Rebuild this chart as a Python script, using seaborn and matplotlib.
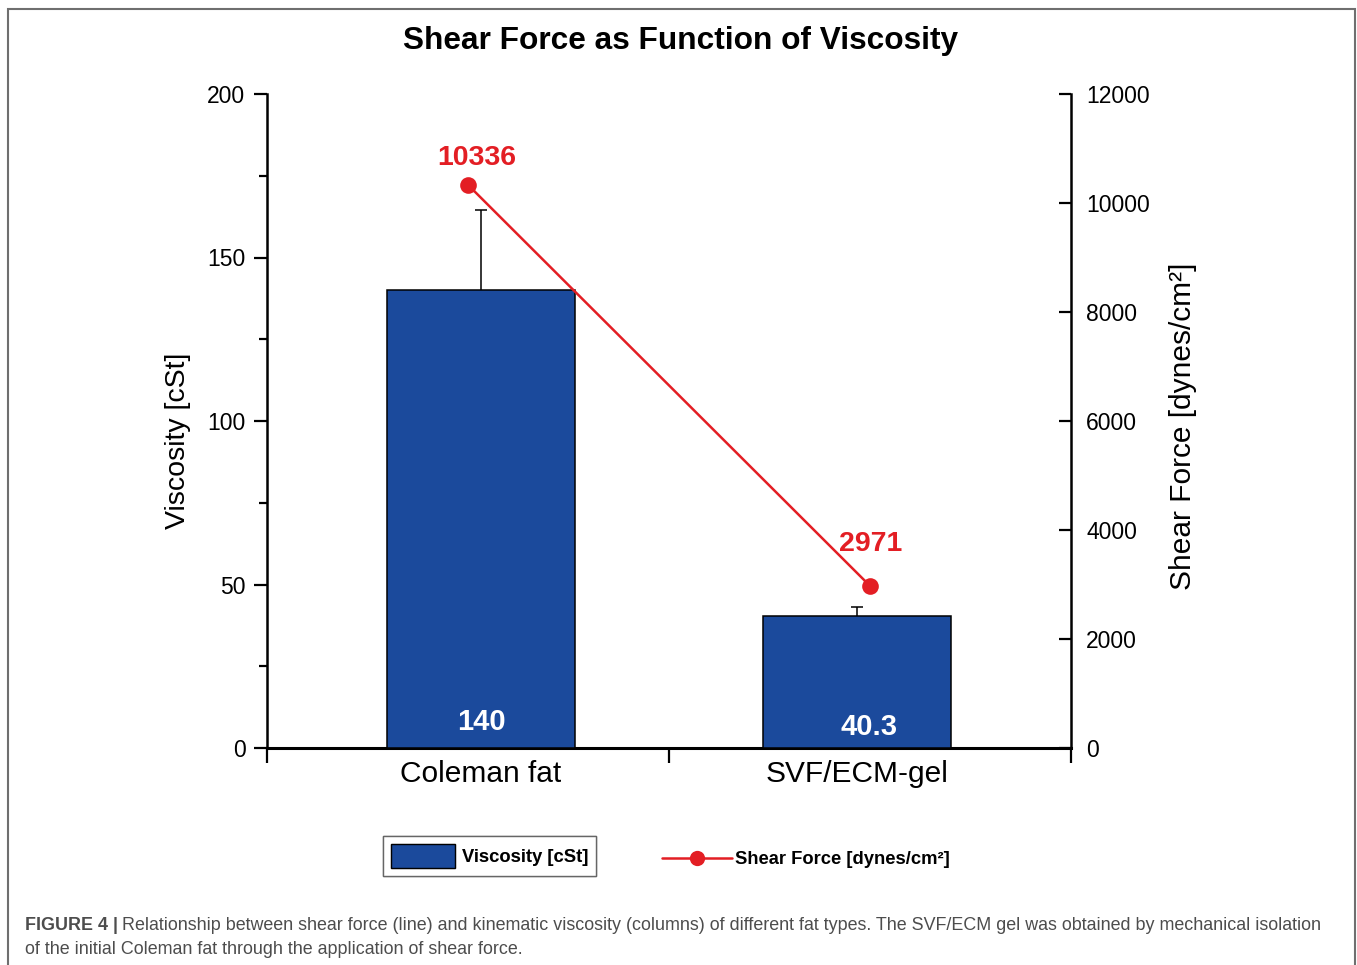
import matplotlib
matplotlib.use("Agg")
import matplotlib.pyplot as plt
from matplotlib.patches import Patch, Rectangle
from matplotlib.lines import Line2D
from matplotlib.ticker import AutoMinorLocator
import seaborn as sns
import numpy as np
import pandas as pd

# ---------------- data ----------------
categories = ["Coleman fat", "SVF/ECM-gel"]
viscosity = [140, 40.3]
viscosity_err = [24.5, 2.8]
shear_force = [10336, 2971]
viscosity_labels = ["140", "40.3"]
shear_labels = ["10336", "2971"]
left_ticks = [0, 50, 100, 150, 200]
right_ticks = [0, 2000, 4000, 6000, 8000, 10000, 12000]

title = "Shear Force as Function of Viscosity"
left_label = "Viscosity [cSt]"
right_label = "Shear Force [dynes/cm²]"
legend_bar = "Viscosity [cSt]"
legend_line = "Shear Force [dynes/cm²]"
caption_bold = "FIGURE 4 |"
caption_1 = ("Relationship between shear force (line) and kinematic viscosity (columns) of different fat types. "
             "The SVF/ECM gel was obtained by mechanical isolation")
caption_2 = "of the initial Coleman fat through the application of shear force."

# ---------------- style ----------------
BLUE = "#1B4A9C"
RED = "#E31E24"
CAP_GRAY = "#4d4d4d"
line_x_shift = [-0.035, 0.035]
shear_label_offsets = [(6.5, 19.5), (0.5, 30.5)]
bar_label_offsets = [(0, 18.5), (8.5, 15)]

sns.set_style("ticks")
plt.rcParams["font.family"] = ["Liberation Sans", "DejaVu Sans"]
plt.rcParams["text.color"] = "black"
plt.rcParams["axes.labelcolor"] = "black"
plt.rcParams["xtick.color"] = "black"
plt.rcParams["ytick.color"] = "black"

W, H = 1357, 965
fig = plt.figure(figsize=(W / 100, H / 100), dpi=100)
ax = fig.add_axes([267 / W, 217 / H, 804 / W, 654 / H])

df = pd.DataFrame({"Fat type": categories, "Viscosity": viscosity})
sns.barplot(data=df, x="Fat type", y="Viscosity", color=BLUE, saturation=1,
            width=0.5, edgecolor="black", linewidth=1.1, errorbar=None,
            ax=ax, zorder=3)

xpos = np.arange(len(categories))
eb = ax.errorbar(xpos, viscosity, yerr=[np.zeros(len(viscosity)), viscosity_err],
                 fmt="none", ecolor="black", elinewidth=1.1, capsize=4.3,
                 capthick=1.1, zorder=2)
eb[1][0].set_visible(False)

ax.set_ylim(left_ticks[0], left_ticks[-1])
ax.set_yticks(left_ticks)
ax.yaxis.set_minor_locator(AutoMinorLocator(2))
xl = (-0.569, len(categories) - 1 + 0.569)
ax.set_xlim(*xl)
ax.set_xticks(xpos)
ax.set_xticklabels(categories, fontsize=21.5)
ax.set_xticks([xl[0], 0.5, xl[1]], minor=True)
ax.tick_params(axis="x", which="major", length=0, pad=9)
ax.tick_params(axis="x", which="minor", length=11, width=1.6, direction="out")
ax.tick_params(axis="y", which="major", length=9.5, width=1.6, direction="out",
               labelsize=16.5, pad=6)
ax.tick_params(axis="y", which="minor", length=5.5, width=1.6, direction="out")
ax.set_xlabel("")
ax.set_ylabel(left_label, fontsize=20.5, labelpad=12)
ax.yaxis.label.set_y(0.469)
for s in ["top", "right"]:
    ax.spines[s].set_visible(False)
ax.spines["left"].set_linewidth(1.8)
ax.spines["bottom"].set_linewidth(2.2)
for s in ["left", "bottom"]:
    ax.spines[s].set_color("black")

for i, (lab, off) in enumerate(zip(viscosity_labels, bar_label_offsets)):
    ax.annotate(lab, (xpos[i], 0), xytext=off, textcoords="offset points",
                ha="center", va="center", color="white", fontsize=21,
                fontweight="bold", zorder=5)

ax2 = ax.twinx()
sns.lineplot(x=xpos + np.array(line_x_shift), y=shear_force, ax=ax2, color=RED,
             linewidth=1.8, marker="o", markersize=12, markeredgewidth=0,
             sort=False, zorder=4)
ax2.set_ylim(right_ticks[0], right_ticks[-1])
ax2.set_yticks(right_ticks)
ax2.tick_params(axis="y", which="major", length=9, width=1.6, direction="in",
                labelsize=16.5, pad=11)
ax2.set_ylabel(right_label, fontsize=21.5, labelpad=14)
ax2.yaxis.label.set_y(0.4916)
for s in ["top", "left", "bottom"]:
    ax2.spines[s].set_visible(False)
ax2.spines["right"].set_linewidth(1.8)
ax2.spines["right"].set_color("black")

for i, (lab, off) in enumerate(zip(shear_labels, shear_label_offsets)):
    ax2.annotate(lab, (xpos[i] + line_x_shift[i], shear_force[i]), xytext=off,
                 textcoords="offset points", ha="center", va="center",
                 color=RED, fontsize=20.5, fontweight="bold")

fig.text(681 / W, 1 - 41 / H, title, ha="center", va="center",
         fontsize=22.8, fontweight="bold")

# legends
h1 = Patch(facecolor=BLUE, edgecolor="black", linewidth=1.0)
leg1 = fig.legend([h1], [legend_bar], loc="center",
                  bbox_to_anchor=(489.5 / W, 1 - 856 / H),
                  frameon=True, fancybox=False, edgecolor="#555555",
                  prop={"size": 13.2, "weight": "bold"},
                  handlelength=3.5, handleheight=1.6, handletextpad=0.35,
                  borderpad=0.45)
leg1.get_frame().set_linewidth(1.0)
h2 = Line2D([], [], color=RED, linewidth=1.8, marker="o", markersize=11,
            markeredgewidth=0)
leg2 = fig.legend([h2], [legend_line], loc="center",
                  bbox_to_anchor=(806 / W, 1 - 860 / H), frameon=False,
                  prop={"size": 13.2, "weight": "bold"},
                  handlelength=3.8, handletextpad=0.2)
fig.add_artist(leg1)

# outer frame
fig.add_artist(Rectangle((8 / W, -0.05), (1355 - 8) / W, 0.05 + 1 - 9 / H,
                         transform=fig.transFigure, fill=False,
                         edgecolor="#6f6f6f", linewidth=1.5, clip_on=False))

# caption
t1 = fig.text(25 / W, 1 - 926 / H, caption_bold, ha="left", va="center",
              fontsize=12.9, fontweight="bold", color=CAP_GRAY)
ax.annotate(caption_1, xy=(1, 0.5), xycoords=t1, xytext=(3, 0),
            textcoords="offset points", ha="left", va="center",
            fontsize=12.9, color=CAP_GRAY, annotation_clip=False)
fig.text(25 / W, 1 - 950 / H, caption_2, ha="left", va="center",
         fontsize=12.9, color=CAP_GRAY)

fig.savefig("out.png", dpi=100)
